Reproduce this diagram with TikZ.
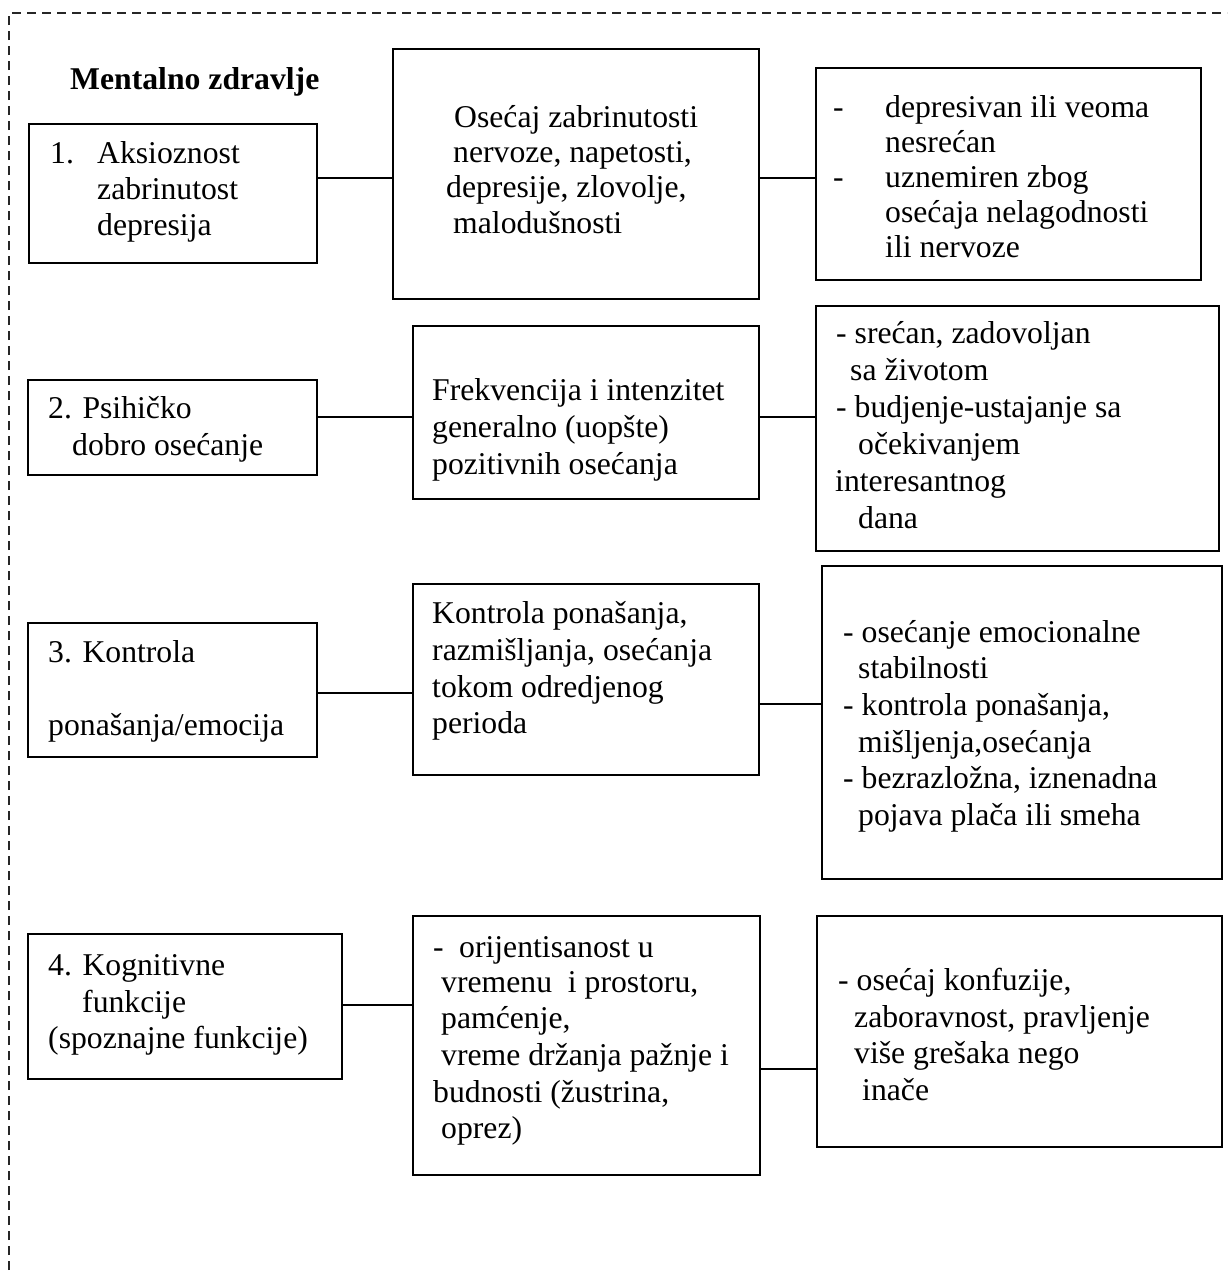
\documentclass[tikz,border=0pt]{standalone}
\usepackage{fontspec}
\setmainfont{Liberation Serif}
\newcommand\txfont{\fontsize{31.7}{36.5}\selectfont}
\begin{document}
\begin{tikzpicture}[x=1pt,y=-1pt,
  box/.style={draw, line width=1.8pt, rectangle, inner sep=0pt, anchor=north west},
  txt/.style={anchor=base west, inner sep=0pt, font=\txfont},
  conn/.style={line width=1.8pt},
  frame/.style={line width=1.2pt, dash pattern=on 9pt off 6pt, black!85}]
\useasboundingbox (0,0) rectangle (1227,1274);
% dashed frame
\coordinate (fa) at (9,1270);
\coordinate (fb) at (9,13);
\coordinate (fc) at (1227,13);
\draw[frame] (fa) -- (fb) -- (fc);

% title
\node[txt, font=\txfont\bfseries] (title) at (70,89) {Mentalno zdravlje};

% ---------- boxes ----------
\node[box, minimum width=288, minimum height=139] (b1)  at (28,123) {};
\node[box, minimum width=366, minimum height=250] (b1m) at (392,48) {};
\node[box, minimum width=385, minimum height=212] (b1r) at (815,67) {};

\node[box, minimum width=289, minimum height=95]  (b2)  at (27,379) {};
\node[box, minimum width=346, minimum height=173] (b2m) at (412,325) {};
\node[box, minimum width=403, minimum height=245] (b2r) at (815,305) {};

\node[box, minimum width=289, minimum height=134] (b3)  at (27,622) {};
\node[box, minimum width=346, minimum height=191] (b3m) at (412,583) {};
\node[box, minimum width=400, minimum height=313] (b3r) at (821,565) {};

\node[box, minimum width=314, minimum height=145] (b4)  at (27,933) {};
\node[box, minimum width=347, minimum height=259] (b4m) at (412,915) {};
\node[box, minimum width=405, minimum height=231] (b4r) at (816,915) {};

% ---------- connectors ----------
\coordinate (r1a) at (0,178);
\coordinate (r2a) at (0,417);
\coordinate (r3a) at (0,693);
\coordinate (r3b) at (0,704);
\coordinate (r4a) at (0,1005);
\coordinate (r4b) at (0,1069);
\draw[conn] (b1.east |- r1a) -- (b1m.west |- r1a);
\draw[conn] (b1m.east |- r1a) -- (b1r.west |- r1a);
\draw[conn] (b2.east |- r2a) -- (b2m.west |- r2a);
\draw[conn] (b2m.east |- r2a) -- (b2r.west |- r2a);
\draw[conn] (b3.east |- r3a) -- (b3m.west |- r3a);
\draw[conn] (b3m.east |- r3b) -- (b3r.west |- r3b);
\draw[conn] (b4.east |- r4a) -- (b4m.west |- r4a);
\draw[conn] (b4m.east |- r4b) -- (b4r.west |- r4b);

% ---------- row 1 texts ----------
\node[txt] (t1a) at (50,163) {\makebox[47pt][l]{1.}Aksioznost};
\node[txt] (t1b) at (97,199) {zabrinutost};
\node[txt] (t1c) at (97,235) {depresija};

\node[txt] (m1a) at (454,127) {Osećaj zabrinutosti};
\node[txt] (m1b) at (453,162) {nervoze, napetosti,};
\node[txt] (m1c) at (446,197) {depresije, zlovolje,};
\node[txt] (m1d) at (453,233) {malodušnosti};

\node[txt] (r1ta) at (833,117) {\makebox[52pt][l]{-}depresivan ili veoma};
\node[txt] (r1tb) at (885,152) {nesrećan};
\node[txt] (r1tc) at (833,187) {\makebox[52pt][l]{-}uznemiren zbog};
\node[txt] (r1td) at (885,222) {osećaja nelagodnosti};
\node[txt] (r1te) at (885,257) {ili nervoze};

% ---------- row 2 texts ----------
\node[txt] (t2a) at (48,418) {2. Psihičko};
\node[txt] (t2b) at (72,455) {dobro osećanje};

\node[txt] (m2a) at (432,400) {Frekvencija i intenzitet};
\node[txt] (m2b) at (432,437) {generalno (uopšte)};
\node[txt] (m2c) at (432,474) {pozitivnih osećanja};

\node[txt] (r2ta) at (836,343) {- srećan, zadovoljan};
\node[txt] (r2tb) at (850,380) {sa životom};
\node[txt] (r2tc) at (836,417) {- budjenje-ustajanje sa};
\node[txt] (r2td) at (858,454) {očekivanjem};
\node[txt] (r2te) at (835,491) {interesantnog};
\node[txt] (r2tf) at (858,528) {dana};

% ---------- row 3 texts ----------
\node[txt] (t3a) at (48,662) {3. Kontrola};
\node[txt] (t3b) at (48,735) {ponašanja/emocija};

\node[txt] (m3a) at (432,623) {Kontrola ponašanja,};
\node[txt] (m3b) at (432,660) {razmišljanja, osećanja};
\node[txt] (m3c) at (432,697) {tokom odredjenog};
\node[txt] (m3d) at (432,733) {perioda};

\node[txt] (r3ta) at (843,642) {- osećanje emocionalne};
\node[txt] (r3tb) at (858,678) {stabilnosti};
\node[txt] (r3tc) at (843,715) {- kontrola ponašanja,};
\node[txt] (r3td) at (858,752) {mišljenja,osećanja};
\node[txt] (r3te) at (843,788) {- bezrazložna, iznenadna};
\node[txt] (r3tf) at (858,825) {pojava plača ili smeha};

% ---------- row 4 texts ----------
\node[txt] (t4a) at (48,975) {4. Kognitivne};
\node[txt] (t4b) at (82,1012) {funkcije};
\node[txt] (t4c) at (48,1048) {(spoznajne funkcije)};

\node[txt] (m4a) at (433,957) {\makebox[26pt][l]{-}orijentisanost u};
\node[txt] (m4b) at (441,992) {vremenu\ \ i prostoru,};
\node[txt] (m4c) at (441,1028) {pamćenje,};
\node[txt] (m4d) at (441,1065) {vreme držanja pažnje i};
\node[txt] (m4e) at (433,1102) {budnosti (žustrina,};
\node[txt] (m4f) at (441,1138) {oprez)};

\node[txt] (r4ta) at (838,990) {- osećaj konfuzije,};
\node[txt] (r4tb) at (854,1027) {zaboravnost, pravljenje};
\node[txt] (r4tc) at (854,1063) {više grešaka nego};
\node[txt] (r4td) at (862,1100) {inače};
\end{tikzpicture}
\end{document}
